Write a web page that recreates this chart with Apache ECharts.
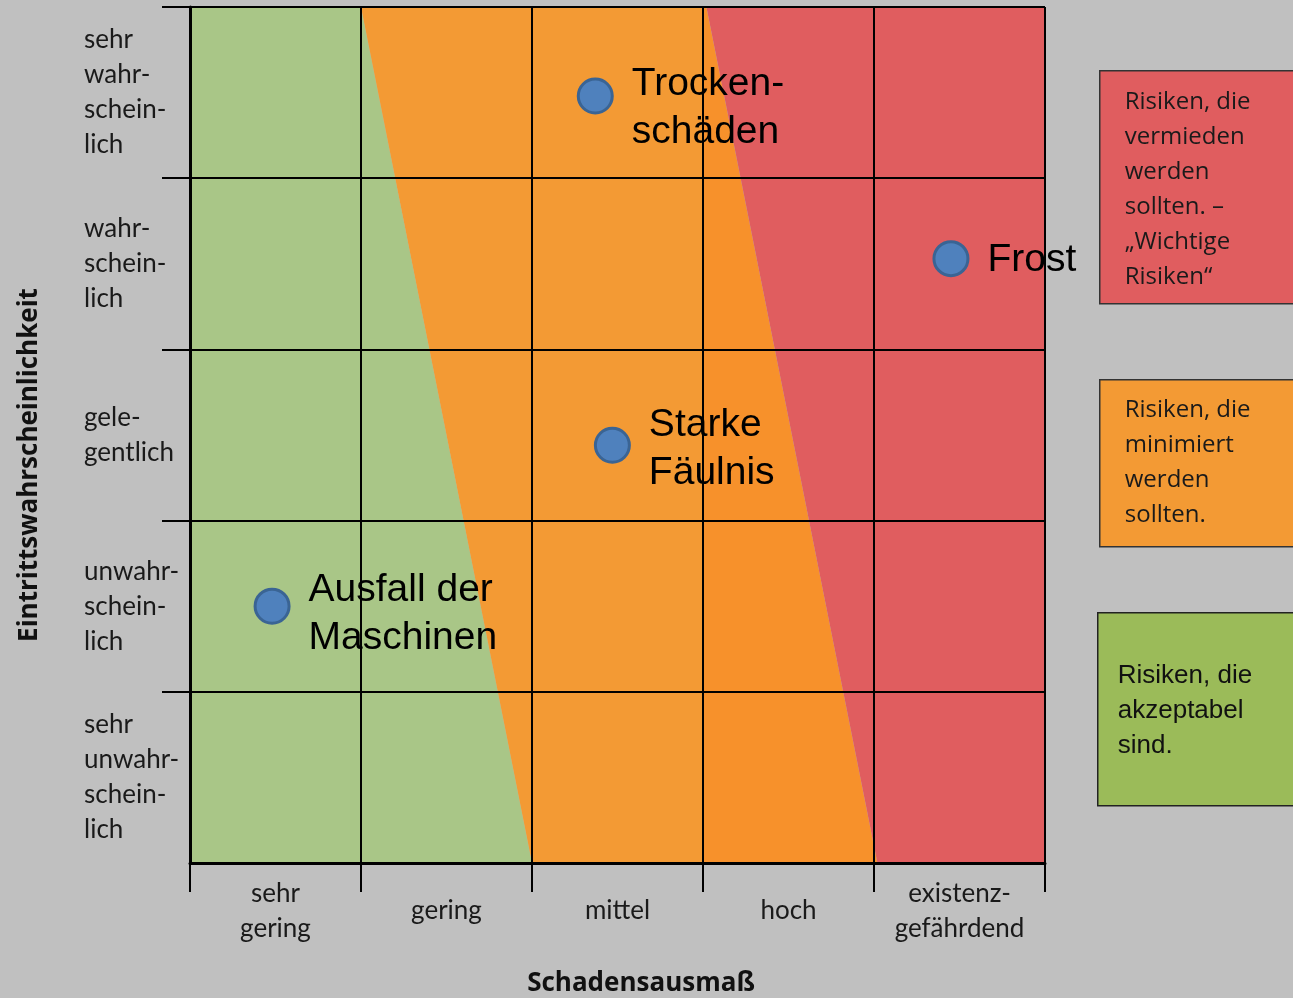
<!DOCTYPE html>
<html>
<head>
<meta charset="utf-8">
<title>Risikomatrix</title>
<script src="https://cdn.jsdelivr.net/npm/echarts@6/dist/echarts.min.js"></script>
<style>
  html, body { margin: 0; padding: 0; background: #c0c0c0; }
  #chart { width: 1293px; height: 998px; }
</style>
</head>
<body>
<div id="chart"></div>
<script>
// Achsenbeschriftungen (Spalten links -> rechts, Zeilen unten -> oben)
var xLabels = ['sehr\ngering', 'gering', 'mittel', 'hoch', 'existenz-\ngefährdend'];
var yLabels = ['sehr\nunwahr-\nschein-\nlich', 'unwahr-\nschein-\nlich', 'gele-\ngentlich', 'wahr-\nschein-\nlich', 'sehr\nwahr-\nschein-\nlich'];

// Risiken: [Schadensausmaß, Eintrittswahrscheinlichkeit]
var riskNames = ['Trocken-\nschäden', 'Frost', 'Starke\nFäulnis', 'Ausfall der\nMaschinen'];
var riskValues = [[2.37, 4.48], [4.45, 3.53], [2.47, 2.44], [0.48, 1.50]];

// Zonen als Polygone in Achsenwerten
var zoneGreen = [[0, 0], [0, 5], [1, 5], [2, 0]];
var zoneOrange = [[1, 5], [2, 0], [3, 0], [3, 5]];
var zoneOrangeDark = [[3, 0], [4.02, 0], [3.02, 5], [3, 5]];
var zoneRed = [[3.02, 5], [4.02, 0], [5, 0], [5, 5]];

// Legende rechts
var legendTexts = [
  'Risiken, die\nvermieden\nwerden\nsollten. –\n„Wichtige\nRisiken“',
  'Risiken, die\nminimiert\nwerden\nsollten.',
  'Risiken, die\nakzeptabel\nsind.'
];

var zones = [
  { pts: zoneGreen, color: '#a9c687' },
  { pts: zoneOrange, color: '#f39a34' },
  { pts: zoneOrangeDark, color: '#f7912b' },
  { pts: zoneRed, color: '#e05d5f' }
];

// Beschriftungsversatz je Punkt (Pixel)
var labelShift = [[0, 12], [0, 2], [0, 4], [0, 8]];

var myChart = echarts.init(document.getElementById('chart'));

var option = {
  backgroundColor: '#c0c0c0',
  animation: false,
  grid: { left: 190, top: 7, right: 248, bottom: 135, containLabel: false, outerBoundsMode: 'none' },
  xAxis: {
    type: 'value',
    min: 0, max: 5, interval: 1,
    z: 10,
    name: 'Schadensausmaß',
    nameLocation: 'middle',
    nameGap: 121,
    nameTextStyle: {
      fontFamily: 'Open Sans', fontWeight: 'bold', fontSize: 26, color: '#111',
      verticalAlign: 'middle', padding: [0, 0, 0, 47]
    },
    axisLine: { show: true, onZero: false, lineStyle: { color: '#000', width: 3 } },
    axisTick: { show: true, length: 29, lineStyle: { color: '#000', width: 2 } },
    splitLine: { show: true, lineStyle: { color: '#000', width: 2 } },
    axisLabel: {
      customValues: [0.5, 1.5, 2.5, 3.5, 4.5],
      formatter: function (v) { return xLabels[Math.floor(v)]; },
      fontFamily: 'Lato', fontSize: 26, color: '#1a1a1a',
      lineHeight: 35, verticalAlign: 'middle', margin: 48,
      padding: [4, 0, 0, 0]
    }
  },
  yAxis: {
    type: 'value',
    min: 0, max: 5, interval: 1,
    z: 10,
    name: 'Eintrittswahrscheinlichkeit',
    nameLocation: 'middle',
    nameRotate: 90,
    nameGap: 147,
    nameTextStyle: {
      fontFamily: 'Open Sans', fontWeight: 'bold', fontSize: 26, color: '#111',
      padding: [0, 60, 0, 0]
    },
    axisLine: { show: true, onZero: false, lineStyle: { color: '#000', width: 3 } },
    axisTick: { show: true, length: 28, customValues: [1, 2, 3, 4, 5], lineStyle: { color: '#000', width: 2 } },
    splitLine: { show: true, lineStyle: { color: '#000', width: 2 } },
    axisLabel: {
      customValues: [0.5, 1.5, 2.5, 3.5, 4.5],
      formatter: function (v) { return yLabels[Math.floor(v)]; },
      fontFamily: 'Lato', fontSize: 26, color: '#1a1a1a',
      lineHeight: 35, align: 'left', margin: 106,
      padding: [8, 0, 0, 0]
    }
  },
  series: [
    {
      type: 'custom',
      z: 1,
      silent: true,
      data: zones.map(function (z, i) { return [i]; }),
      renderItem: function (params, api) {
        var zone = zones[api.value(0)];
        var points = zone.pts.map(function (p) { return api.coord(p); });
        return {
          type: 'polygon',
          shape: { points: points },
          style: { fill: zone.color, stroke: null }
        };
      }
    },
    {
      type: 'scatter',
      z: 3,
      symbolSize: 34,
      itemStyle: { color: '#4f81bd', borderColor: '#3a6494', borderWidth: 3, opacity: 1 },
      label: {
        show: true,
        position: 'right',
        distance: 18,
        fontFamily: 'Liberation Sans',
        fontSize: 39,
        lineHeight: 48,
        color: '#000',
        formatter: function (p) { return p.name; }
      },
      data: riskValues.map(function (v, i) {
        return { name: riskNames[i], value: v, label: { offset: labelShift[i] } };
      })
    }
  ],
  graphic: [
    {
      type: 'group', left: 1099, top: 70,
      children: [
        { type: 'rect', shape: { x: 0, y: 0, width: 200, height: 233 }, style: { fill: '#e05d5f', stroke: '#333', lineWidth: 1.5 } },
        { type: 'text', x: 25, y: 14, style: { text: legendTexts[0], fontFamily: 'Open Sans', fontSize: 24, lineHeight: 35, fill: '#1a1a1a' } }
      ]
    },
    {
      type: 'group', left: 1099, top: 379,
      children: [
        { type: 'rect', shape: { x: 0, y: 0, width: 200, height: 167 }, style: { fill: '#f39a34', stroke: '#333', lineWidth: 1.5 } },
        { type: 'text', x: 25, y: 13, style: { text: legendTexts[1], fontFamily: 'Open Sans', fontSize: 24, lineHeight: 35, fill: '#1a1a1a' } }
      ]
    },
    {
      type: 'group', left: 1097, top: 612,
      children: [
        { type: 'rect', shape: { x: 0, y: 0, width: 202, height: 193 }, style: { fill: '#9bbb59', stroke: '#222', lineWidth: 1.5 } },
        { type: 'text', x: 20, y: 46, style: { text: legendTexts[2], fontFamily: 'Liberation Sans', fontSize: 26, lineHeight: 35, fill: '#111' } }
      ]
    }
  ]
};

myChart.setOption(option);
</script>
</body>
</html>
